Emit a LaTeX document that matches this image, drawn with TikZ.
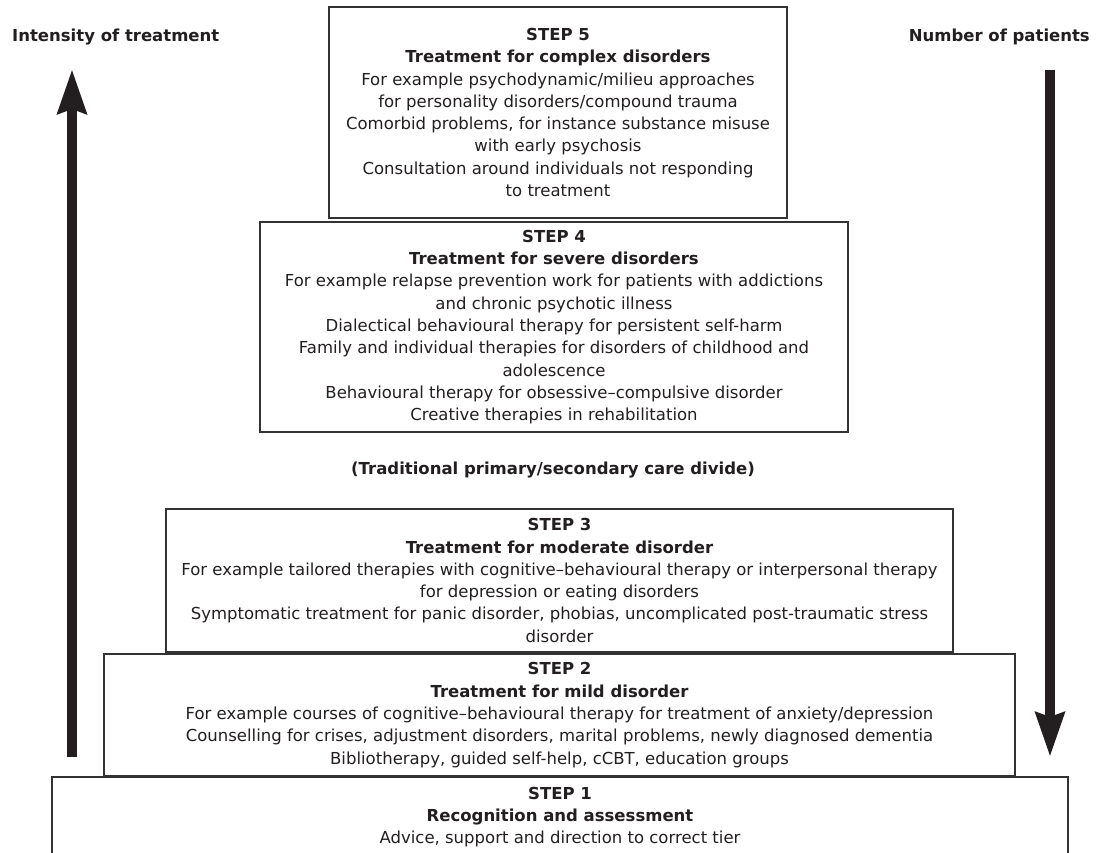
\documentclass[tikz,border=0pt]{standalone}
\usepackage{fontspec}
\setmainfont{DejaVu Sans}
\usetikzlibrary{arrows.meta}
\definecolor{ink}{HTML}{231F20}
\definecolor{edge}{HTML}{333333}
\tikzset{
  stepbox/.style={draw=edge, line width=2pt, inner sep=0pt, align=center, text=ink,
    font=\fontsize{16.5}{22.3}\selectfont},
  sidelabel/.style={text=ink, font=\fontsize{16.5}{20}\selectfont\bfseries, inner sep=0pt},
  bigarrow/.style={draw=ink, line width=10pt,
    -{Stealth[length=44pt, width=28pt, inset=4pt]}}
}
\begin{document}
\begin{tikzpicture}[x=1pt, y=-1pt]
\useasboundingbox (0,0) rectangle (1097,852);
\clip (0,0) rectangle (1097,852);
\fill[white] (0,0) rectangle (1097,852);

% Step boxes
\node[stepbox, minimum width=458pt, minimum height=211pt] (s5) at (558,112.5)
 {\textbf{STEP 5}\\ \textbf{Treatment for complex disorders}\\
  For example psychodynamic/milieu approaches\\
  for personality disorders/compound trauma\\
  Comorbid problems, for instance substance misuse\\
  with early psychosis\\
  Consultation around individuals not responding\\
  to treatment};

\node[stepbox, minimum width=588pt, minimum height=210pt] (s4) at (554,327)
 {\textbf{STEP 4}\\ \textbf{Treatment for severe disorders}\\
  For example relapse prevention work for patients with addictions\\
  and chronic psychotic illness\\
  Dialectical behavioural therapy for persistent self-harm\\
  Family and individual therapies for disorders of childhood and\\
  adolescence\\
  Behavioural therapy for obsessive–compulsive disorder\\
  Creative therapies in rehabilitation};

\node[sidelabel] (divide) at (553,470) {(Traditional primary/secondary care divide)};

\node[stepbox, minimum width=787pt, minimum height=143pt] (s3) at (559.5,580.5)
 {\textbf{STEP 3}\\ \textbf{Treatment for moderate disorder}\\
  For example tailored therapies with cognitive–behavioural therapy or interpersonal therapy\\
  for depression or eating disorders\\
  Symptomatic treatment for panic disorder, phobias, uncomplicated post-traumatic stress\\
  disorder};

\node[stepbox, minimum width=911pt, minimum height=122pt] (s2) at (559.5,715)
 {\textbf{STEP 2}\\ \textbf{Treatment for mild disorder}\\
  For example courses of cognitive–behavioural therapy for treatment of anxiety/depression\\
  Counselling for crises, adjustment disorders, marital problems, newly diagnosed dementia\\
  Bibliotherapy, guided self-help, cCBT, education groups};

\node[stepbox, minimum width=1016pt, minimum height=80pt] (s1) at (560,817)
 {\textbf{STEP 1}\\ \textbf{Recognition and assessment}\\
  Advice, support and direction to correct tier};

% Side labels
\node[sidelabel, anchor=west] (intensity) at (12,37) {Intensity of treatment};
\node[sidelabel, anchor=east] (patients) at (1090,37) {Number of patients};

% Arrows
\coordinate (upbot) at (72,757);
\coordinate (uptop) at (72,69);
\coordinate (downtop) at (1050,70);
\coordinate (downbot) at (1050,757);
\draw[bigarrow] (upbot) -- (uptop);
\draw[bigarrow] (downtop) -- (downbot);
\end{tikzpicture}
\end{document}
